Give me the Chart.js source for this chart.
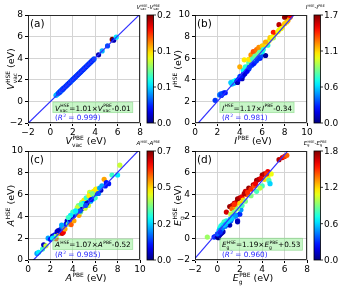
<!DOCTYPE html>
<html>
<head>
<script src="https://cdn.jsdelivr.net/npm/chart.js@4.4.0/dist/chart.umd.min.js"></script>
<style>
  body { margin: 0; background: #fff; }
  #wrap { position: relative; width: 347px; height: 292px; }
  #wrap canvas { position: absolute; left: 0; top: 0; }
</style>
</head>
<body>
<div id="wrap">
  <canvas id="ca" width="347" height="292"></canvas>
  <canvas id="cb" width="347" height="292"></canvas>
  <canvas id="cc" width="347" height="292"></canvas>
  <canvas id="cd" width="347" height="292"></canvas>
</div>
<script>
// (a) vacuum level
var vacPBE = [0.50,0.60,0.72,0.80,0.85,0.90,0.95,1.00,1.05,1.10,1.15,1.20,1.28,1.35,1.42,1.50,1.58,1.65,1.72,1.80,1.88,1.95,2.02,2.10,2.18,2.25,2.32,2.40,2.48,2.55,2.62,2.70,2.78,2.85,2.92,3.00,3.08,3.15,3.22,3.30,3.38,3.45,3.52,3.60,3.68,3.75,3.82,3.90,4.30,4.62,5.10,5.52,5.65,5.88];
var vacHSE = [0.56,0.66,0.76,0.83,0.88,0.93,0.98,1.04,1.08,1.13,1.18,1.23,1.31,1.38,1.45,1.53,1.61,1.68,1.75,1.83,1.91,1.99,2.05,2.13,2.21,2.28,2.35,2.43,2.51,2.58,2.65,2.73,2.81,2.88,2.95,3.03,3.11,3.18,3.25,3.33,3.41,3.48,3.55,3.63,3.71,3.78,3.85,3.93,4.31,4.67,5.14,5.74,5.66,5.95];
var vacDiff = [0.06,0.06,0.04,0.03,0.05,0.03,0.04,0.05,0.03,0.04,0.03,0.04,0.03,0.04,0.03,0.04,0.03,0.04,0.03,0.04,0.03,0.05,0.03,0.04,0.03,0.04,0.03,0.04,0.03,0.04,0.03,0.04,0.03,0.04,0.03,0.04,0.03,0.04,0.03,0.04,0.03,0.04,0.03,0.04,0.03,0.04,0.03,0.04,0.01,0.06,0.04,0.20,0.01,0.07];

// (b) ionisation potential
var ipPBE = [1.80,2.20,2.30,2.35,2.40,2.50,2.60,2.70,3.30,3.40,3.50,3.50,3.60,3.70,3.75,3.80,4.00,4.20,4.30,4.35,4.50,4.40,4.60,4.70,4.80,4.90,5.00,5.10,5.20,5.30,5.40,5.50,5.60,5.80,5.90,6.30,6.00,6.50,7.00,4.30,4.50,4.80,5.00,5.30,5.50,5.80,6.00,6.20,6.40,6.60,6.80,7.00,7.20,7.50,7.80,8.00,8.30,8.50,4.00,4.40,4.80,5.00,5.20,5.50,5.70,6.00,6.30,6.70,7.00,7.50,8.00,8.10,8.50,
  3.20,3.90,4.10,4.45,4.65,4.85,5.05,5.25,5.45,5.65,5.15,5.35,5.75,6.10,6.90,7.40,7.70,8.20];
var ipHSE = [2.10,2.60,2.70,2.55,2.65,2.75,2.80,2.80,3.60,3.80,3.70,3.85,3.90,3.95,3.85,3.75,4.30,4.10,4.40,4.60,4.70,4.85,4.95,5.20,5.00,5.30,5.50,5.40,5.70,5.60,5.90,5.80,6.10,6.00,6.20,6.25,6.60,7.20,7.90,4.90,5.20,5.60,5.80,6.10,6.40,6.80,7.00,7.20,7.40,7.60,7.80,8.00,8.30,8.60,8.90,9.20,9.50,9.80,5.20,5.85,5.90,6.30,6.60,6.80,7.00,7.15,7.50,7.90,8.40,9.10,9.80,9.95,9.95,
  3.75,4.05,4.35,4.55,4.80,5.15,5.35,5.50,5.75,5.95,5.95,6.20,6.55,6.80,7.95,8.45,8.75,9.35];
var ipDiff = [0.30,0.40,0.40,0.30,0.30,0.35,0.30,0.25,0.55,0.65,0.50,0.70,0.65,0.60,0.15,0.10,0.40,0.10,0.15,0.20,0.25,0.45,0.40,0.55,0.30,0.50,0.50,0.35,0.55,0.35,0.60,0.35,0.55,0.25,0.35,0.05,0.60,0.70,0.85,0.65,0.70,0.80,0.85,0.85,0.90,0.95,0.95,0.95,1.00,1.00,1.00,1.00,1.05,1.05,1.10,1.15,1.20,1.25,1.20,1.10,1.10,1.25,1.35,1.30,1.25,1.15,1.20,1.15,1.45,1.60,1.65,1.70,1.50,
  0.55,0.20,0.25,0.15,0.20,0.30,0.30,0.25,0.30,0.30,0.75,0.80,0.80,0.70,1.05,1.05,1.05,1.15];

// (c) electron affinity
var eaPBE = [0.80,0.95,1.30,1.40,1.60,1.80,2.00,2.20,2.40,2.50,2.50,2.60,2.80,2.90,3.00,3.05,3.15,3.20,3.30,3.40,3.50,3.60,3.70,3.80,3.85,3.90,4.00,4.10,4.10,4.20,4.30,4.40,4.50,4.55,4.60,4.70,4.80,4.90,5.00,5.10,5.20,5.30,5.40,5.50,5.60,5.70,5.80,5.90,6.00,6.10,6.30,6.50,6.80,6.90,7.20,7.50,8.00,8.20,4.50,4.80,5.00,5.50,6.00,5.20,5.60,6.20,4.00,3.80,3.00,2.20,
  4.40,4.65,4.95,5.25,5.45,5.65,5.85,6.05,6.25,6.40,4.25,4.75,5.15,5.75,6.60,7.00,3.60,2.70];
var eaHSE = [0.60,0.70,1.00,1.40,1.30,2.00,1.90,2.20,2.30,1.95,2.20,2.60,2.45,2.80,2.90,2.45,2.55,3.00,2.85,3.30,3.60,3.30,3.50,3.70,3.25,3.80,4.00,3.60,4.10,4.30,4.50,4.20,4.60,4.10,4.80,4.40,4.70,5.00,5.20,4.75,5.10,5.40,5.00,5.60,5.40,5.80,5.60,6.00,5.70,6.20,6.10,6.40,7.40,6.80,7.00,7.80,7.80,8.70,5.00,5.30,5.50,6.20,6.40,5.70,6.00,6.50,4.40,4.10,3.20,2.00,
  4.80,4.50,5.20,5.20,5.90,5.55,6.30,6.50,6.10,6.60,4.50,5.10,5.00,6.10,6.80,7.10,3.90,2.70];
var eaDiff = [0.20,0.25,0.30,0.05,0.40,0.20,0.10,0.05,0.10,0.60,0.35,0.05,0.50,0.10,0.15,0.65,0.62,0.20,0.50,0.10,0.05,0.35,0.20,0.05,0.55,0.10,0.05,0.50,0.05,0.10,0.25,0.20,0.05,0.50,0.15,0.35,0.05,0.05,0.15,0.40,0.05,0.10,0.40,0.10,0.20,0.10,0.25,0.05,0.30,0.10,0.20,0.05,0.50,0.10,0.10,0.30,0.25,0.40,0.35,0.40,0.45,0.40,0.30,0.30,0.28,0.35,0.30,0.25,0.20,0.25,
  0.40,0.15,0.25,0.05,0.45,0.10,0.45,0.45,0.15,0.20,0.25,0.30,0.15,0.35,0.20,0.10,0.30,0.05];

// (d) band gap
var gapPBE = [-0.90,-0.30,-0.20,0.00,0.05,0.10,0.20,0.30,0.40,0.10,0.50,0.20,0.30,0.40,0.50,0.60,0.80,0.50,0.70,0.90,1.00,1.10,1.20,1.30,1.50,1.70,1.80,1.80,2.00,2.10,0.80,1.10,1.30,1.50,1.70,1.80,2.00,2.20,2.50,2.80,3.20,3.50,3.70,4.00,4.20,4.50,5.50,5.80,6.00,1.30,1.60,1.50,2.00,2.30,2.60,3.00,3.30,4.20,4.50,4.60,4.80,6.20,1.20,1.50,1.80,2.20,2.50,3.00,3.50,4.00,3.80,4.70,
  0.15,0.35,0.60,0.75,0.95,1.15,1.35,1.60,0.00,0.25,2.40,2.70,3.40,3.90,4.40];
var gapHSE = [0.10,0.10,0.15,0.10,0.25,0.05,0.30,0.40,0.50,0.30,0.60,0.90,1.10,1.20,1.30,1.50,1.60,1.00,1.10,1.30,1.40,1.20,1.60,1.80,2.00,2.10,1.60,1.50,2.20,2.60,2.40,2.90,3.00,3.20,3.30,3.60,3.70,3.80,4.30,4.60,4.90,5.30,5.40,5.80,5.90,6.10,7.20,7.40,7.50,2.70,2.90,3.10,3.20,3.50,4.00,4.50,4.80,5.40,5.60,5.30,5.90,7.60,2.20,2.40,2.70,3.00,3.40,3.90,4.30,4.80,4.60,5.00,
  0.70,0.80,1.20,1.30,1.55,1.75,1.95,2.10,0.40,0.55,4.10,4.20,5.00,5.50,5.90];
var gapDiff = [0.95,0.30,0.30,0.10,0.15,0.00,0.10,0.10,0.10,0.15,0.10,0.70,0.75,0.70,0.75,0.80,0.75,0.50,0.40,0.40,0.40,0.10,0.40,0.50,0.45,0.40,0.20,0.10,0.30,0.50,1.65,1.75,1.70,1.70,1.60,1.75,1.70,1.60,1.65,1.75,1.70,1.75,1.70,1.75,1.70,1.60,1.70,1.60,1.50,1.40,1.30,1.50,1.20,1.20,1.40,1.50,1.45,1.20,1.10,0.80,1.10,1.40,1.00,0.90,0.90,0.80,0.90,0.90,0.80,0.80,1.00,0.60,
  0.55,0.45,0.60,0.55,0.60,0.60,0.60,0.50,0.40,0.30,1.70,1.50,1.60,1.60,1.50];

// axis ticks and colorbar labels
var ticksM2 = [-2, 0, 2, 4, 6, 8];
var ticks0 = [0, 2, 4, 6, 8, 10];
var cbLabelsA = ['0.0', '0.1', '0.1', '0.2'];
var cbLabelsB = ['0.0', '0.6', '1.1', '1.7'];
var cbLabelsC = ['0.0', '0.2', '0.5', '0.7'];
var cbLabelsD = ['0.0', '0.6', '1.2', '1.8'];
var cbMax = [0.2, 1.7, 0.7, 1.8];

// linear fits
var fitSlope = [1.01, 1.17, 1.07, 1.19];
var fitIntercept = [-0.01, -0.34, -0.52, 0.53];
var fitR2 = ['0.999', '0.981', '0.985', '0.960'];

var FONT = '"DejaVu Sans"';

function clamp(v) { return Math.max(0, Math.min(1, v)); }
function jet(t) {
  t = clamp(t);
  var r = clamp(1.5 - Math.abs(4 * t - 3));
  var g = clamp(1.5 - Math.abs(4 * t - 2));
  var b = clamp(1.5 - Math.abs(4 * t - 1));
  return 'rgb(' + Math.round(r * 255) + ',' + Math.round(g * 255) + ',' + Math.round(b * 255) + ')';
}

// symbol like V^HSE_vac
function sym(base, sup, sub) {
  return [{ t: base, it: true }, { sup: sup, sub: sub }];
}

function richWidth(ctx, parts, fs) {
  var w = 0;
  parts.forEach(function(p) {
    if (p.t !== undefined) {
      ctx.font = (p.it ? 'italic ' : '') + fs + 'px ' + FONT;
      w += ctx.measureText(p.t).width;
    } else {
      ctx.font = (fs * 0.62) + 'px ' + FONT;
      var a = p.sup ? ctx.measureText(p.sup).width : 0;
      var b = p.sub ? ctx.measureText(p.sub).width : 0;
      w += Math.max(a, b) + fs * 0.05;
    }
  });
  return w;
}

// y is the vertical middle of the line
function drawRich(ctx, parts, x, y, fs, align, color) {
  var w = richWidth(ctx, parts, fs);
  var cx = align === 'center' ? x - w / 2 : x;
  var base = y + fs * 0.36;
  ctx.fillStyle = color;
  ctx.textAlign = 'left';
  ctx.textBaseline = 'alphabetic';
  parts.forEach(function(p) {
    if (p.t !== undefined) {
      ctx.font = (p.it ? 'italic ' : '') + fs + 'px ' + FONT;
      ctx.fillText(p.t, cx, base);
      cx += ctx.measureText(p.t).width;
    } else {
      ctx.font = (fs * 0.62) + 'px ' + FONT;
      var a = 0, b = 0;
      if (p.sup) { ctx.fillText(p.sup, cx + fs * 0.05, base - fs * 0.42); a = ctx.measureText(p.sup).width; }
      if (p.sub) { ctx.fillText(p.sub, cx, base + fs * 0.22); b = ctx.measureText(p.sub).width; }
      cx += Math.max(a, b) + fs * 0.05;
    }
  });
  return w;
}

function fmtTick(v) {
  return v < 0 ? '\u2212' + Math.abs(v) : String(v);
}

var panels = [
  { id: 'ca', box: [28, 15, 140, 123], ticks: ticksM2, xs: vacPBE, ys: vacHSE, cs: vacDiff, cb: cbLabelsA,
    letter: '(a)', base: 'V', sub: 'vac' },
  { id: 'cb', box: [195, 15, 307, 123], ticks: ticks0, xs: ipPBE, ys: ipHSE, cs: ipDiff, cb: cbLabelsB,
    letter: '(b)', base: 'I', sub: null },
  { id: 'cc', box: [28, 151, 140, 260], ticks: ticks0, xs: eaPBE, ys: eaHSE, cs: eaDiff, cb: cbLabelsC,
    letter: '(c)', base: 'A', sub: null },
  { id: 'cd', box: [195, 151, 307, 260], ticks: ticksM2, xs: gapPBE, ys: gapHSE, cs: gapDiff, cb: cbLabelsD,
    letter: '(d)', base: 'E', sub: 'g' }
];

var W = 347, H = 292, YAXIS_W = 22, XAXIS_H = 14;

panels.forEach(function(p, k) {
  var L = p.box[0], T = p.box[1], R = p.box[2], B = p.box[3];
  var lo = p.ticks[0], hi = p.ticks[p.ticks.length - 1];
  var a = fitSlope[k], b = fitIntercept[k];

  var pts = p.xs.map(function(x, i) { return { x: x, y: p.ys[i] }; });
  var cols = p.cs.map(function(c) { return jet(c / cbMax[k]); });

  var xLabel = sym(p.base, 'PBE', p.sub).concat([{ t: ' (eV)' }]);
  var yLabel = sym(p.base, 'HSE', p.sub).concat([{ t: ' (eV)' }]);
  var eq = sym(p.base, 'HSE', p.sub)
    .concat([{ t: '=' + a.toFixed(2) + '\u00d7' }])
    .concat(sym(p.base, 'PBE', p.sub))
    .concat([{ t: (b < 0 ? '-' : '+') + Math.abs(b).toFixed(2) }]);
  var cbTitle = sym(p.base, 'HSE', p.sub).concat([{ t: '-' }]).concat(sym(p.base, 'PBE', p.sub));
  var r2 = [{ t: '(' }, { t: 'R', it: true }, { sup: '2' }, { t: ' = ' + fitR2[k] + ')' }];

  var decor = {
    id: 'decor' + k,
    afterDraw: function(chart) {
      var ctx = chart.ctx, ca = chart.chartArea;
      var pw = ca.right - ca.left, ph = ca.bottom - ca.top;
      ctx.save();
      // frame
      ctx.strokeStyle = '#000';
      ctx.lineWidth = 0.8;
      ctx.strokeRect(ca.left + 0.5, ca.top + 0.5, pw - 1, ph - 1);

      // panel letter
      ctx.fillStyle = '#000';
      ctx.font = '10.5px ' + FONT;
      ctx.textBaseline = 'middle';
      ctx.textAlign = 'left';
      ctx.fillText(p.letter, ca.left + 2, ca.top + 9);

      // axis titles
      drawRich(ctx, xLabel, (ca.left + ca.right) / 2 + 2, ca.bottom + 18, 9.5, 'center', '#000');
      ctx.save();
      ctx.translate(ca.left - 17, (ca.top + ca.bottom) / 2);
      ctx.rotate(-Math.PI / 2);
      drawRich(ctx, yLabel, 0, 0, 9.5, 'center', '#000');
      ctx.restore();

      // fit equation box
      var ex = ca.left + 0.24 * pw, ey = ca.bottom - 0.14 * ph;
      var ew = richWidth(ctx, eq, 7.3);
      ctx.fillStyle = 'rgba(144,238,144,0.5)';
      ctx.strokeStyle = 'rgba(120,210,120,0.6)';
      ctx.lineWidth = 0.8;
      var bh = p.sub === 'g' ? 12 : 10.5;
      ctx.fillRect(ex - 2, ey - bh / 2 - 0.5, ew + 4, bh);
      ctx.strokeRect(ex - 2, ey - bh / 2 - 0.5, ew + 4, bh);
      drawRich(ctx, eq, ex, ey, 7.3, 'left', '#000');
      drawRich(ctx, r2, ex, ca.bottom - 0.055 * ph, 7.3, 'left', '#2a2aff');

      // colorbar
      var cx0 = ca.right + 7, cw = 6.5;
      var grad = ctx.createLinearGradient(0, ca.bottom, 0, ca.top);
      for (var s = 0; s <= 20; s++) grad.addColorStop(s / 20, jet(s / 20));
      ctx.fillStyle = grad;
      ctx.fillRect(cx0, ca.top, cw, ph);
      ctx.strokeStyle = '#000';
      ctx.lineWidth = 0.8;
      ctx.strokeRect(cx0, ca.top, cw, ph);
      ctx.font = '9px ' + FONT;
      ctx.fillStyle = '#000';
      ctx.textAlign = 'left';
      ctx.textBaseline = 'middle';
      p.cb.forEach(function(lab, i) {
        var ty = ca.bottom - ph * i / (p.cb.length - 1);
        ctx.beginPath();
        ctx.moveTo(cx0 + cw, ty);
        ctx.lineTo(cx0 + cw + 2.5, ty);
        ctx.stroke();
        ctx.fillText(lab, cx0 + cw + 3.5, ty + 0.5);
      });
      drawRich(ctx, cbTitle, cx0 + cw / 2 - 2, ca.top - 8, 5.5, 'center', '#000');
      ctx.restore();
    }
  };

  var axisCommon = function(isX) {
    return {
      type: 'linear',
      min: lo,
      max: hi,
      afterBuildTicks: function(s) { s.ticks = p.ticks.map(function(v) { return { value: v }; }); },
      afterFit: function(s) { if (isX) s.height = XAXIS_H; else s.width = YAXIS_W; },
      ticks: {
        autoSkip: false,
        maxRotation: 0,
        padding: isX ? 1 : 2,
        color: '#000',
        font: { family: 'DejaVu Sans', size: 9 },
        callback: function(v) { return fmtTick(v); }
      },
      grid: { color: '#d4d4d4', lineWidth: 1, tickColor: '#000', tickLength: 3 },
      border: { display: false }
    };
  };

  new Chart(document.getElementById(p.id), {
    type: 'scatter',
    data: {
      datasets: [
        {
          type: 'line',
          data: [{ x: lo, y: a * lo + b }, { x: hi, y: a * hi + b }],
          borderColor: '#3030ff',
          borderWidth: 1.2,
          pointRadius: 0,
          fill: false,
          clip: 0
        },
        {
          data: pts,
          backgroundColor: cols,
          borderWidth: 0,
          pointRadius: 2.6
        }
      ]
    },
    options: {
      responsive: false,
      animation: false,
      events: [],
      layout: { padding: { left: L - YAXIS_W, right: W - R, top: T, bottom: H - B - XAXIS_H } },
      plugins: { legend: { display: false }, tooltip: { enabled: false } },
      scales: { x: axisCommon(true), y: axisCommon(false) }
    },
    plugins: [decor]
  });
});
</script>
</body>
</html>
